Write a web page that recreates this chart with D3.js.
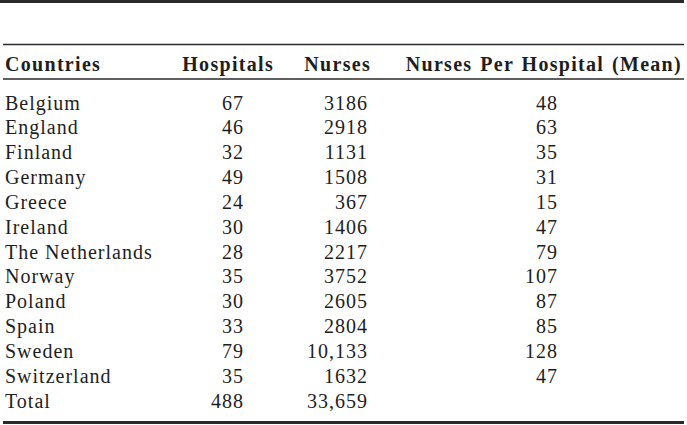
<!DOCTYPE html>
<html>
<head>
<meta charset="utf-8">
<script src="https://cdn.jsdelivr.net/npm/d3@7"></script>
<style>
  html, body { margin: 0; padding: 0; background: #fff; }
  svg { display: block; }
  svg text { font-family: "Liberation Serif", Tinos, "Times New Roman", Times, serif; }
</style>
</head>
<body>
<div id="chart"></div>
<script>
// Nurses and hospitals by country — table drawn with D3

const headers = ["Countries", "Hospitals", "Nurses", "Nurses Per Hospital (Mean)"];
const countries = ["Belgium", "England", "Finland", "Germany", "Greece", "Ireland",
  "The Netherlands", "Norway", "Poland", "Spain", "Sweden", "Switzerland", "Total"];
const hospitals = ["67", "46", "32", "49", "24", "30", "28", "35", "30", "33", "79", "35", "488"];
const nurses = ["3186", "2918", "1131", "1508", "367", "1406", "2217", "3752", "2605", "2804", "10,133", "1632", "33,659"];
const perHospital = ["48", "63", "35", "31", "15", "47", "79", "107", "87", "85", "128", "47", ""];

const width = 687, height = 425;
const TEXT = "#1e1e1e";
const RULE = "#2a2a2a";

const svg = d3.select("#chart").append("svg")
  .attr("width", width).attr("height", height)
  .attr("viewBox", `0 0 ${width} ${height}`);

// column anchors: first column left aligned, others right aligned
const colX = d3.scaleOrdinal().domain([0, 1, 2, 3]).range([5, 244, 368, 558]);
const headX = d3.scaleOrdinal().domain([0, 1, 2, 3]).range([5, 274, 371, 682]);
const colAnchor = i => i === 0 ? "start" : "end";

// row baselines
const y = d3.scalePoint().domain(d3.range(countries.length)).range([109.5, 407.5]);

// rules
const rules = [
  { y: 1.5, w: 3.2, x1: 0, x2: 684 },
  { y: 44.5, w: 1.4, x1: 3, x2: 684 },
  { y: 79, w: 1.4, x1: 3, x2: 684 },
  { y: 422.5, w: 3.2, x1: 3, x2: 684 }
];
svg.selectAll("line.rule").data(rules).join("line")
  .attr("class", "rule")
  .attr("x1", d => d.x1).attr("x2", d => d.x2)
  .attr("y1", d => d.y).attr("y2", d => d.y)
  .attr("stroke", RULE).attr("stroke-width", d => d.w);

// header
svg.selectAll("text.head").data(headers).join("text")
  .attr("class", "head")
  .attr("x", (d, i) => headX(i))
  .attr("y", 71)
  .attr("text-anchor", (d, i) => colAnchor(i))
  .attr("font-weight", "bold")
  .attr("font-size", 20)
  .attr("letter-spacing", 1.3)
  .attr("word-spacing", 1.5)
  .attr("fill", TEXT)
  .text(d => d);

// body
const columns = [countries, hospitals, nurses, perHospital];
const rows = countries.map((c, r) => columns.map((col, i) => ({ r, i, v: col[r] })));

const rowG = svg.selectAll("g.row").data(rows).join("g").attr("class", "row");
rowG.selectAll("text").data(d => d).join("text")
  .attr("x", d => colX(d.i))
  .attr("y", d => y(d.r))
  .attr("text-anchor", d => colAnchor(d.i))
  .attr("font-size", 20)
  .attr("letter-spacing", 1)
  .attr("fill", TEXT)
  .text(d => d.v);
</script>
</body>
</html>
